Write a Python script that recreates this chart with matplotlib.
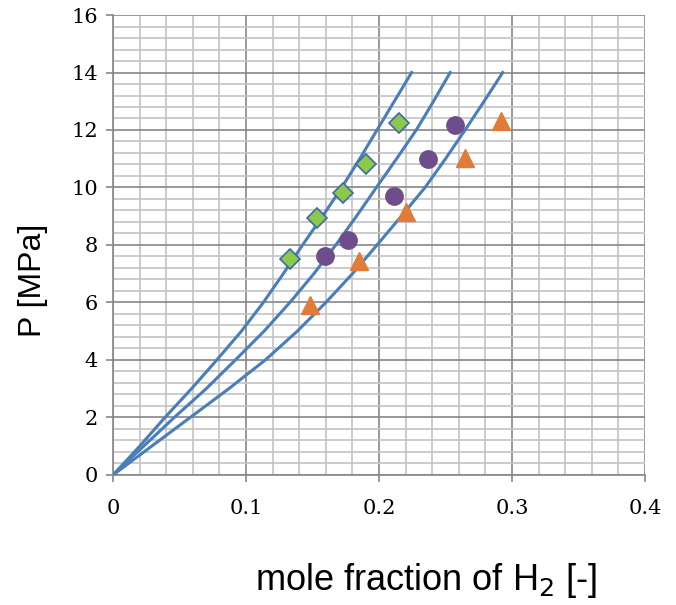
import matplotlib
matplotlib.use('Agg')
import matplotlib.pyplot as plt
from matplotlib.ticker import MultipleLocator

# measured points
diam_x = [0.133, 0.153, 0.173, 0.190, 0.215]
diam_y = [7.50, 8.95, 9.80, 10.80, 12.25]
circ_x = [0.159, 0.177, 0.211, 0.237, 0.257]
circ_y = [7.62, 8.17, 9.70, 11.00, 12.17]
tri_x = [0.148, 0.185, 0.220, 0.265, 0.292]
tri_y = [5.90, 7.45, 9.15, 11.03, 12.31]

# model curves
curve_p = [0, 1, 2, 3, 4, 5, 6, 7, 8, 9, 10, 11, 12, 13, 14]
curve1_x = [0, 0.020, 0.039, 0.059, 0.078, 0.0965, 0.113, 0.128, 0.1425, 0.1575,
            0.172, 0.1855, 0.1985, 0.2115, 0.2245]
curve2_x = [0, 0.023, 0.046, 0.070, 0.092, 0.1135, 0.133, 0.151, 0.1675, 0.183,
            0.198, 0.2132, 0.228, 0.241, 0.2535]
curve3_x = [0, 0.029, 0.058, 0.087, 0.1145, 0.1385, 0.160, 0.180, 0.1985, 0.2167,
            0.2346, 0.250, 0.2647, 0.279, 0.293]

blue = '#4a7ebb'

fig = plt.figure(figsize=(6.76, 6.05), dpi=100)
ax = fig.add_axes([0.1672, 0.2149, 0.7870, 0.7603])

for cx in [curve1_x, curve2_x, curve3_x]:
    ax.plot(cx, curve_p, color=blue, lw=2.2, zorder=3, solid_joinstyle='round')

ax.plot(diam_x, diam_y, 'D', ms=10, mfc='#8cc84b', mec='#3d6aa8', mew=1.2, zorder=4)
ax.plot(circ_x, circ_y, 'o', ms=12.5, mfc='#6e4d8c', mec='#6e4d8c', zorder=4)
ax.plot(tri_x, tri_y, '^', ms=13, mfc='#e07b39', mec='#e07b39', zorder=4)

ax.set_xlim(0, 0.4)
ax.set_ylim(0, 16)
ax.xaxis.set_minor_locator(MultipleLocator(0.02))
ax.yaxis.set_major_locator(MultipleLocator(2))
ax.yaxis.set_minor_locator(MultipleLocator(0.4))
ax.set_xticks([0, 0.1, 0.2, 0.3, 0.4])
ax.set_xticklabels(['0', '0.1', '0.2', '0.3', '0.4'])

ax.grid(which='major', color='#868686', lw=1.2, zorder=1)
ax.grid(which='minor', color='#c4c4c4', lw=1.2, zorder=0)
ax.set_axisbelow(True)

for s in ['top', 'right']:
    ax.spines[s].set_visible(False)
for s in ['left', 'bottom']:
    ax.spines[s].set_color('#868686')
    ax.spines[s].set_linewidth(1.2)

ax.tick_params(which='major', direction='out', length=5, width=1.2, color='#868686',
               labelsize=15)
ax.tick_params(axis='x', pad=12)
ax.tick_params(axis='y', pad=6)
ax.tick_params(which='minor', length=0)
for lab in ax.get_xticklabels() + ax.get_yticklabels():
    lab.set_fontfamily('DejaVu Serif')

fig.text(0.049, 0.537, 'P [MPa]', rotation=90, fontsize=23,
         family='Liberation Sans', ha='center', va='center')
fig.text(0.630, 0.041, 'mole fraction of H$_2$ [-]', fontsize=26,
         family='Liberation Sans', ha='center', va='center')

fig.savefig('out.png', dpi=100)
